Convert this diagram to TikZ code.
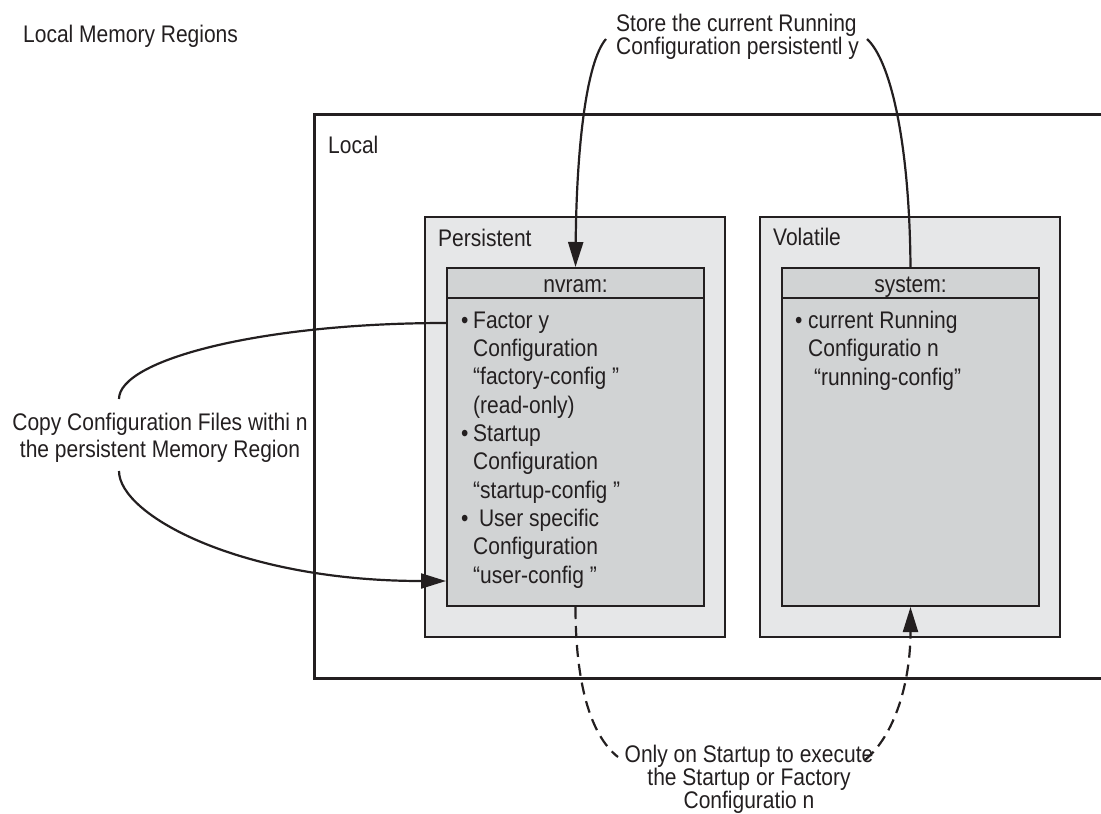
\documentclass[tikz,border=0pt]{standalone}
\usepackage{fontspec}
\setmainfont{Liberation Sans}[FakeStretch=0.875]
\usepgflibrary{arrows.meta}
\usetikzlibrary{positioning}
\definecolor{linecol}{RGB}{35,31,32}
\definecolor{outerfill}{RGB}{230,231,232}
\definecolor{innerfill}{RGB}{209,211,212}
\begin{document}
\begin{tikzpicture}
        [x=1pt,y=-1pt,
         every node/.style={text=linecol,inner sep=0pt,font=\fontsize{24}{28.3}\selectfont},
         lbl/.style={anchor=base west},
         memregion/.style={draw=linecol,fill=outerfill,line width=2pt,minimum width=300pt,minimum height=420pt},
         cfgfile/.style={draw=linecol,fill=innerfill,line width=2pt,minimum width=257pt,minimum height=338pt},
         link/.style={draw=linecol,line width=2.2pt},
         tip/.style={-{Triangle[length=25pt,width=15pt]}},
         boot/.style={link,dash pattern=on 12pt off 7pt}]
    \useasboundingbox (0,0) rectangle (1101,814);
    \node[lbl] (title) at (23,42) {Local Memory Regions};
    \node[draw=linecol,line width=3pt,minimum width=800pt,minimum height=564pt,anchor=north west] (local) at (313,113) {};
    \node[lbl] (locallbl) at ([shift={(15,40)}]local.north west) {Local};
    % memory regions
    \node[memregion,anchor=north west] (persist) at (424,216) {};
    \node[memregion,right=33pt of persist] (volatile) {};
    \node[lbl] at ([shift={(14,30)}]persist.north west) {Persistent};
    \node[lbl] at ([shift={(14,29)}]volatile.north west) {Volatile};
    \node[cfgfile,anchor=north west] (nvram) at ([shift={(22,51)}]persist.north west) {};
    \node[cfgfile,right=76pt of nvram] (system) {};
    \draw[link] ([shift={(0,31)}]nvram.north west) -- ([shift={(0,31)}]nvram.north east);
    \draw[link] ([shift={(0,31)}]system.north west) -- ([shift={(0,31)}]system.north east);
    \node[anchor=base] at ([shift={(0,25)}]nvram.north) {nvram:};
    \node[anchor=base] at ([shift={(0,25)}]system.north) {system:};
    % base of a multi-line node = its last line
    \node[lbl,align=left] (nvramtxt) at ([shift={(15,316)}]nvram.north west)
        {\makebox[12pt][l]{•}Factor y\\
         \hspace*{12pt}Configuration\\
         \hspace*{12pt}“factory-config ”\\
         \hspace*{12pt}(read-only)\\
         \makebox[12pt][l]{•}Startup\\
         \hspace*{12pt}Configuration\\
         \hspace*{12pt}“startup-config ”\\
         \makebox[12pt][l]{•}\ User specific\\
         \hspace*{12pt}Configuration\\
         \hspace*{12pt}“user-config ”};
    \node[lbl,align=left] (systemtxt) at ([shift={(14,118)}]system.north west)
        {\makebox[13pt][l]{•}current Running\\
         \hspace*{13pt}Configuratio n\\
         \hspace*{13pt}\ “running-config”};
    % notes and connectors
    \node[lbl,align=left,font=\fontsize{24}{23}\selectfont] (storetxt) at (616,54)
        {Store the current Running\\Configuration persistentl y};
    \node[anchor=base,align=center,font=\fontsize{24}{27}\selectfont] (copytxt) at (160,457)
        {Copy Configuration Files withi n\\the persistent Memory Region};
    \node[anchor=base,align=center,font=\fontsize{24}{23}\selectfont] (starttxt) at (749,808)
        {Only on Startup to execute\\the Startup or Factory\\Configuratio n};
    \draw[link,tip] ([shift={(-10,-15)}]storetxt.base west) .. controls +(-20,23) and +(1,-117) .. (nvram.north);
    \draw[link] ([shift={(251,-15)}]storetxt.base west) .. controls +(23,21) and +(-1,-127) .. (system.north);
    \draw[link] ([shift={(-41,-58)}]copytxt.base) .. controls +(0,-39) and +(-186,0) .. ([shift={(0,56)}]nvram.north west);
    \draw[link,tip] ([shift={(-41,14)}]copytxt.base) .. controls +(0,44) and +(-206,0) .. ([shift={(0,-26)}]nvram.south west);
    \draw[boot] (nvram.south) .. controls +(0,75) and +(-28,-22) .. ([shift={(-131,-51)}]starttxt.base);
    \draw[boot,tip] ([shift={(116,-48)}]starttxt.base) .. controls +(30,-25) and +(0,75) .. (system.south);
\end{tikzpicture}
\end{document}
